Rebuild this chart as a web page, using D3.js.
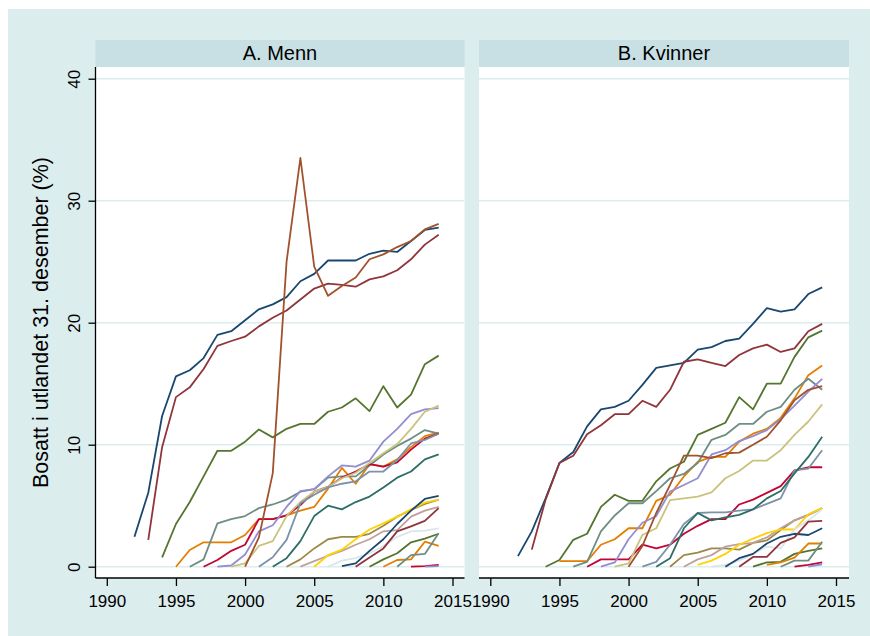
<!DOCTYPE html>
<html><head><meta charset="utf-8">
<script src="https://cdn.jsdelivr.net/npm/d3@7"></script>
<style>
html,body{margin:0;padding:0;background:#fff;}
svg{display:block;font-family:"Liberation Sans",Arial,sans-serif;}
</style></head>
<body><div id="chart"></div>
<script>
// ---- data ----
const panelTitles = ["A. Menn", "B. Kvinner"];
const yTitle = "Bosatt i utlandet 31. desember (%)";
const cohortStarts = [1992,1993,1994,1995,1996,1997,1998,1999,2000,2001,2002,2003,2004,2005,2006,2007,2008,2009,2010,2011,2012,2013];
const lastYear = 2014;
const xTicks = [1990,1995,2000,2005,2010,2015];
const yTicks = [0,10,20,30,40];
const seriesColors = ["#1a476f","#90353b","#55752f","#e37e00","#6e8e84","#c10534","#938dd2","#cac27e","#a0522d","#7b92a8","#2d6d66","#9c8847","#bfa19c","#ffd200","#d9e6eb","#1a476f","#90353b","#55752f","#e37e00","#6e8e84","#c10534","#938dd2"];

const menValues = [
 [2.46,6.07,12.35,15.6,16.1,17.1,19.0,19.3,20.2,21.1,21.5,22.1,23.4,24.0,25.1,25.1,25.1,25.65,25.9,25.8,26.7,27.6,27.8],
 [2.2,9.8,13.9,14.7,16.2,18.1,18.5,18.85,19.7,20.4,21.0,21.9,22.8,23.2,23.1,22.95,23.55,23.8,24.3,25.2,26.4,27.2],
 [0.77,3.5,5.3,7.4,9.5,9.5,10.25,11.25,10.6,11.3,11.7,11.7,12.7,13.05,13.8,12.75,14.8,13.05,14.1,16.6,17.3],
 [0,1.37,2.0,2.0,2.0,2.6,3.9,3.9,4.2,4.6,4.9,6.4,8.1,6.8,8.4,8.2,8.8,9.8,10.7,11.0],
 [0,0.6,3.55,3.9,4.15,4.8,5.1,5.5,6.15,6.35,7.3,7.4,7.4,8.3,9.2,9.9,10.5,11.2,10.9],
 [0,0.55,1.3,1.8,3.9,3.9,4.2,5.05,6.15,6.55,7.3,7.8,8.4,8.2,8.55,9.6,10.5,10.9],
 [0,0.1,1.0,2.9,3.4,4.9,6.2,6.35,7.4,8.3,8.2,8.7,10.25,11.3,12.5,12.9,13.0],
 [0,0.27,1.7,2.1,4.15,5.3,6.15,6.55,7.25,7.7,8.5,9.3,10.05,11.3,12.7,13.2],
 [0,2.4,7.65,25.0,33.5,24.6,22.2,23.0,23.7,25.2,25.6,26.2,26.7,27.65,28.1],
 [0,0.77,2.2,5.2,5.9,6.5,6.8,7.0,7.8,7.8,8.75,10.1,10.4,10.9],
 [0,0.7,2.1,4.15,5.0,4.7,5.3,5.75,6.5,7.3,7.8,8.8,9.2],
 [0,0.6,1.5,2.25,2.45,2.45,2.7,3.35,4.1,4.65,5.15,5.5],
 [0,0.45,0.9,1.3,1.8,2.25,2.9,3.0,4.1,4.6,4.9],
 [0,0.95,1.4,2.25,3.05,3.55,4.1,4.7,5.25,5.5],
 [0,0.5,0.7,1.1,1.7,2.45,2.9,2.95,3.15],
 [0.05,0.27,1.3,2.25,3.5,4.6,5.55,5.8],
 [0,0.75,1.5,2.9,3.3,3.75,4.8],
 [0,0.6,1.1,2.0,2.3,2.7],
 [0,0.55,0.6,2.05,1.7],
 [0,0.95,1.05,2.75],
 [0,0.05,0.15],
 [0,0.05]
];

const womenValues = [
 [0.87,2.9,5.6,8.5,9.4,11.5,12.9,13.1,13.6,14.9,16.3,16.5,16.7,17.8,18.0,18.5,18.7,19.9,21.2,20.9,21.1,22.35,22.9],
 [1.4,5.5,8.5,9.1,10.85,11.6,12.5,12.5,13.6,13.1,14.5,16.8,17.0,16.7,16.45,17.35,17.9,18.2,17.6,17.9,19.3,19.9],
 [0,0.55,2.2,2.7,4.9,5.9,5.4,5.4,7.0,8.05,8.6,10.8,11.3,11.8,13.9,12.9,15.0,15.0,17.2,18.8,19.35],
 [0.45,0.45,0.45,1.8,2.25,3.15,3.15,5.4,5.9,7.4,8.6,9.0,9.0,10.25,10.9,11.3,12.2,13.8,15.7,16.5],
 [0,0.4,2.9,4.2,5.2,5.2,6.2,7.25,7.6,8.5,10.4,10.8,11.7,11.7,12.7,13.1,14.5,15.4,14.5],
 [0,0.6,0.6,0.6,1.8,1.5,1.8,2.7,3.35,3.9,3.9,5.1,5.5,6.05,6.6,7.9,8.15,8.15],
 [0,0.35,2.25,3.6,4.15,6.15,6.7,7.25,9.2,9.55,10.3,10.7,11.2,12.1,13.2,14.35,15.4],
 [0,0.27,2.6,3.15,5.45,5.6,5.75,6.1,7.25,7.85,8.7,8.7,9.55,10.8,11.9,13.3],
 [0,1.7,4.4,6.7,9.1,9.1,8.9,9.3,9.35,10.0,10.65,12.0,13.65,14.5,14.8],
 [0,0.4,1.8,3.5,4.4,4.45,4.45,4.6,4.7,5.15,5.6,7.9,8.05,9.55],
 [0,0.7,3.15,4.4,3.8,4.05,4.25,4.7,5.6,6.2,7.65,9.0,10.65],
 [0,0.95,1.15,1.5,1.5,1.4,1.95,2.15,3.0,3.8,4.25,4.8],
 [0,0.6,0.95,1.65,1.85,1.95,2.4,3.15,3.8,4.25,4.8],
 [0.15,0.5,1.05,1.8,2.3,2.75,3.05,3.05,4.3,4.8],
 [0,0.15,0.5,1.05,1.65,1.5,3.05,3.8,4.7],
 [0,0.7,1.05,1.9,2.45,2.7,2.6,3.15],
 [0,0.8,0.8,1.95,2.4,3.7,3.75],
 [0,0.35,0.4,1.05,1.3,1.5],
 [0.15,0.35,0.75,1.9,1.9],
 [0,0.5,0.5,2.05],
 [0,0.15,0.35],
 [0,0.2]
];

// ---- layout ----
const W = 870, H = 636;
const bg = "#dcedee", strip = "#c8e0e4", grid = "#dcedee";
const panels = [
  {x0: 95.5, x1: 464.5, values: menValues, showY: true},
  {x0: 479, x1: 849, values: womenValues, showY: false}
];
const stripTop = 40, stripH = 27, plotTop = 67, plotBottom = 578;

const svg = d3.select("#chart").append("svg").attr("width", W).attr("height", H);
svg.append("rect").attr("x", 8).attr("y", 9).attr("width", W - 8).attr("height", H - 9).attr("fill", bg);

const y = d3.scaleLinear().domain([0, 40]).range([566.7, 78.7]);

panels.forEach((p, i) => {
  const g = svg.append("g");
  const x = d3.scaleLinear().domain([1990, 2015]).range([p.x0 + 11.3, p.x0 + 357]);
  // strip
  g.append("rect").attr("x", p.x0).attr("y", stripTop).attr("width", p.x1 - p.x0).attr("height", stripH).attr("fill", strip);
  g.append("text").attr("x", (p.x0 + p.x1) / 2).attr("y", 59.5).attr("text-anchor", "middle")
    .attr("font-size", 20).attr("fill", "#000").text(panelTitles[i]);
  // plot area
  g.append("rect").attr("x", p.x0).attr("y", plotTop).attr("width", p.x1 - p.x0).attr("height", plotBottom - plotTop).attr("fill", "#fff");
  // gridlines
  g.selectAll(".gl").data(yTicks).join("line")
    .attr("x1", p.x0).attr("x2", p.x1).attr("y1", d => y(d)).attr("y2", d => y(d))
    .attr("stroke", grid).attr("stroke-width", 1.6);
  // lines
  const line = d3.line().x(d => x(d[0])).y(d => y(d[1]));
  p.values.forEach((vals, k) => {
    const pts = vals.map((v, j) => [cohortStarts[k] + j, v]);
    g.append("path").datum(pts).attr("d", line).attr("fill", "none")
      .attr("stroke", seriesColors[k]).attr("stroke-width", 1.8).attr("stroke-linejoin", "round");
  });
  // x axis
  const xa = g.append("g").attr("transform", `translate(0,${plotBottom})`)
    .call(d3.axisBottom(x).tickValues(xTicks).tickFormat(d3.format("d")).tickSize(8).tickPadding(4));
  xa.select(".domain").attr("d", `M${p.x0},0H${p.x1}`).attr("stroke", "#000").attr("stroke-width", 1.3);
  xa.selectAll(".tick line").attr("stroke", "#000").attr("stroke-width", 1.3);
  xa.selectAll(".tick text").attr("font-size", 17).attr("fill", "#000")
    .attr("font-family", "'Liberation Sans', Arial, sans-serif").attr("dy", null).attr("y", 29);
  // y axis
  if (p.showY) {
    const ya = g.append("g").attr("transform", `translate(${p.x0},0)`)
      .call(d3.axisLeft(y).tickValues(yTicks).tickSize(7).tickPadding(0));
    ya.select(".domain").attr("d", `M0,${plotTop}V${plotBottom}`).attr("stroke", "#000").attr("stroke-width", 1.3);
    ya.selectAll(".tick line").attr("stroke", "#000").attr("stroke-width", 1.3);
    ya.selectAll(".tick text").attr("font-size", 17).attr("fill", "#000")
      .attr("font-family", "'Liberation Sans', Arial, sans-serif")
      .attr("x", null).attr("dy", null).attr("text-anchor", "middle")
      .attr("transform", "translate(-15.5,0) rotate(-90)");
  }
});

svg.append("text").attr("transform", `translate(48,${(plotTop + plotBottom) / 2}) rotate(-90)`)
  .attr("text-anchor", "middle").attr("font-size", 21.5).attr("fill", "#000").text(yTitle);
</script>
</body></html>
